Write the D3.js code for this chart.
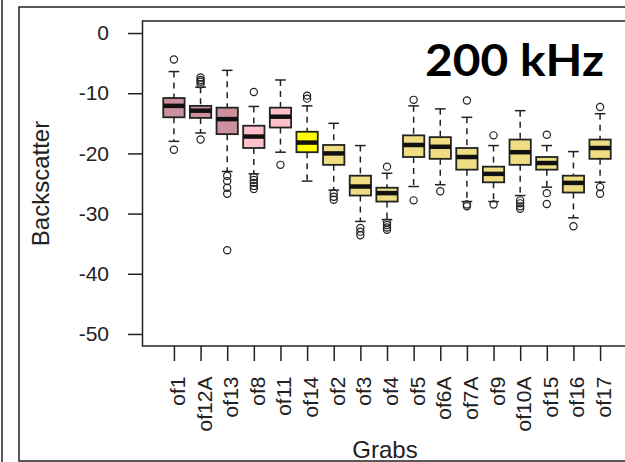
<!DOCTYPE html>
<html>
<head>
<meta charset="utf-8">
<script src="https://cdn.jsdelivr.net/npm/d3@7"></script>
<style>
  html, body { margin: 0; padding: 0; background: #fff; }
  svg { display: block; }
</style>
</head>
<body>
<svg id="chart" width="625" height="462"></svg>
<script>
// box plot stats, one entry per grab
const grabs = ["of1","of12A","of13","of8","of11","of14","of2","of3","of4","of5","of6A","of7A","of9","of10A","of15","of16","of17"];
const groupType = ["a","a","a","b","b","c","d","d","d","d","d","d","d","d","d","d","d"];
const lowWhisker  = [-18.0,-16.6,-23.0,-23.4,-19.8,-24.6,-26.1,-31.3,-31.0,-25.5,-25.2,-28.0,-28.0,-27.0,-25.6,-30.7,-24.8];
const q1          = [-14.0,-14.1,-16.8,-19.1,-15.7,-19.8,-21.9,-27.0,-28.0,-20.6,-20.9,-22.7,-24.8,-21.9,-22.7,-26.5,-20.9];
const median      = [-12.1,-12.9,-14.3,-17.2,-13.9,-18.2,-20.0,-25.5,-26.6,-18.6,-18.9,-20.6,-23.4,-19.8,-21.6,-24.9,-19.1];
const q3          = [-10.8,-12.1,-12.4,-15.4,-12.4,-16.4,-18.6,-23.7,-25.7,-17.0,-17.3,-19.1,-22.2,-17.7,-20.6,-23.7,-17.7];
const highWhisker = [-6.4,-9.0,-6.2,-12.2,-7.8,-12.1,-15.0,-18.7,-23.3,-12.1,-12.6,-14.0,-18.7,-12.9,-18.7,-19.7,-13.4];
const outliers = [
  [-4.4,-19.4],
  [-7.4,-7.8,-8.1,-8.5,-17.7],
  [-23.7,-24.6,-25.7,-26.7,-36.1],
  [-9.8,-23.9,-24.4,-24.9,-25.4,-25.9],
  [-21.9],
  [-10.4,-10.9],
  [-26.6,-27.2,-27.7],
  [-32.4,-33.0,-33.6],
  [-22.2,-31.5,-31.9,-32.3,-32.7],
  [-11.1,-27.8],
  [-26.3],
  [-11.2,-28.5,-28.8],
  [-17.0,-28.5],
  [-27.8,-28.3,-28.8,-29.2],
  [-16.9,-26.6,-28.4],
  [-32.1],
  [-12.3,-25.6,-26.7]
];
const yTicks = [0,-10,-20,-30,-40,-50];

const svg = d3.select("#chart");
const ink = "#222";

// outer frame lines (figure is cropped on the right)
svg.append("line").attr("x1",2).attr("x2",2).attr("y1",0).attr("y2",462)
  .attr("stroke",ink).attr("stroke-width",1.5);
svg.append("path").attr("d","M640,7H19V461H640")
  .attr("fill","none").attr("stroke",ink).attr("stroke-width",1.5);

const x = d3.scaleLinear().domain([-0.18, 18.18]).range([142.5, 631.5]);
const y = d3.scaleLinear().domain([-52, 2]).range([346, 21]);

const color = d3.scaleOrdinal()
  .domain(["a","b","c","d"])
  .range(["#CD919E","#FFC0CB","#FFFF00","#EEDD82"]);

const halfBox = (x(1) - x(0)) * 0.4;
const halfCap = halfBox * 0.5;

// y axis
const yAxis = svg.append("g")
  .attr("transform", `translate(${x.range()[0]},0)`)
  .call(d3.axisLeft(y).tickValues(yTicks).tickSize(14.5).tickSizeOuter(0).tickPadding(19).tickFormat(d => d === 0 ? "0" : "-" + Math.abs(d)));
yAxis.select(".domain").remove();
yAxis.selectAll("line").attr("stroke",ink).attr("stroke-width",1.5);
yAxis.selectAll("text").attr("fill",ink).style("font-family","'Liberation Sans', Arial, sans-serif").style("font-size","21px");

// x axis
const xAxis = svg.append("g")
  .attr("transform", `translate(0,${y.range()[0]})`)
  .call(d3.axisBottom(x).tickValues(d3.range(1, grabs.length + 1)).tickSize(15).tickSizeOuter(0).tickFormat(d => grabs[d - 1]));
xAxis.select(".domain").remove();
xAxis.selectAll("line").attr("stroke",ink).attr("stroke-width",1.5);
xAxis.selectAll("text")
  .attr("fill",ink)
  .attr("transform","rotate(-90)")
  .attr("text-anchor","end")
  .attr("x",-30.5).attr("y",10.5).attr("dy",0)
  .style("font-family","'Liberation Sans', Arial, sans-serif").style("font-size","21px");

// boxes
const stats = grabs.map((g, i) => ({
  name: g, pos: i + 1, type: groupType[i],
  lo: lowWhisker[i], q1: q1[i], med: median[i], q3: q3[i], hi: highWhisker[i], out: outliers[i]
}));

const box = svg.append("g").selectAll("g").data(stats).join("g");

box.append("line")
  .attr("x1", d => x(d.pos)).attr("x2", d => x(d.pos))
  .attr("y1", d => y(d.hi)).attr("y2", d => y(d.q3))
  .attr("stroke",ink).attr("stroke-width",1.5).attr("stroke-dasharray","6,5");
box.append("line")
  .attr("x1", d => x(d.pos)).attr("x2", d => x(d.pos))
  .attr("y1", d => y(d.q1)).attr("y2", d => y(d.lo))
  .attr("stroke",ink).attr("stroke-width",1.5).attr("stroke-dasharray","6,5");
box.selectAll(".cap").data(d => [d.hi, d.lo].map(v => ({ v, pos: d.pos }))).join("line")
  .attr("x1", d => x(d.pos) - halfCap).attr("x2", d => x(d.pos) + halfCap)
  .attr("y1", d => y(d.v)).attr("y2", d => y(d.v))
  .attr("stroke",ink).attr("stroke-width",1.5);
box.append("rect")
  .attr("x", d => x(d.pos) - halfBox).attr("width", halfBox * 2)
  .attr("y", d => y(d.q3)).attr("height", d => y(d.q1) - y(d.q3))
  .attr("fill", d => color(d.type)).attr("stroke",ink).attr("stroke-width",1.8);
box.append("line")
  .attr("x1", d => x(d.pos) - halfBox).attr("x2", d => x(d.pos) + halfBox)
  .attr("y1", d => y(d.med)).attr("y2", d => y(d.med))
  .attr("stroke","#111").attr("stroke-width",4.5);
box.selectAll("circle").data(d => d.out.map(v => ({ v, pos: d.pos }))).join("circle")
  .attr("cx", d => x(d.pos)).attr("cy", d => y(d.v)).attr("r",3.6)
  .attr("fill","none").attr("stroke",ink).attr("stroke-width",1.2);

// plot box
svg.append("rect")
  .attr("x", x.range()[0]).attr("y", y.range()[1])
  .attr("width", x.range()[1] - x.range()[0]).attr("height", y.range()[0] - y.range()[1])
  .attr("fill","none").attr("stroke",ink).attr("stroke-width",1.5);

// axis titles
svg.append("text")
  .attr("transform","translate(49,183.5) rotate(-90)")
  .attr("text-anchor","middle").attr("fill",ink)
  .style("font-family","'Liberation Sans', Arial, sans-serif").style("font-size","24px")
  .text("Backscatter");
svg.append("text")
  .attr("x", 385).attr("y", 457.5)
  .attr("text-anchor","middle").attr("fill",ink)
  .style("font-family","'Liberation Sans', Arial, sans-serif").style("font-size","24px")
  .text("Grabs");

// frequency label
svg.append("text")
  .attr("x", 425).attr("y", 75.5)
  .attr("textLength", 179).attr("lengthAdjust","spacingAndGlyphs")
  .attr("fill","#000")
  .style("font-family","Lato, 'Open Sans', sans-serif").style("font-weight","bold").style("font-size","43px")
  .text("200 kHz");
</script>
</body>
</html>
